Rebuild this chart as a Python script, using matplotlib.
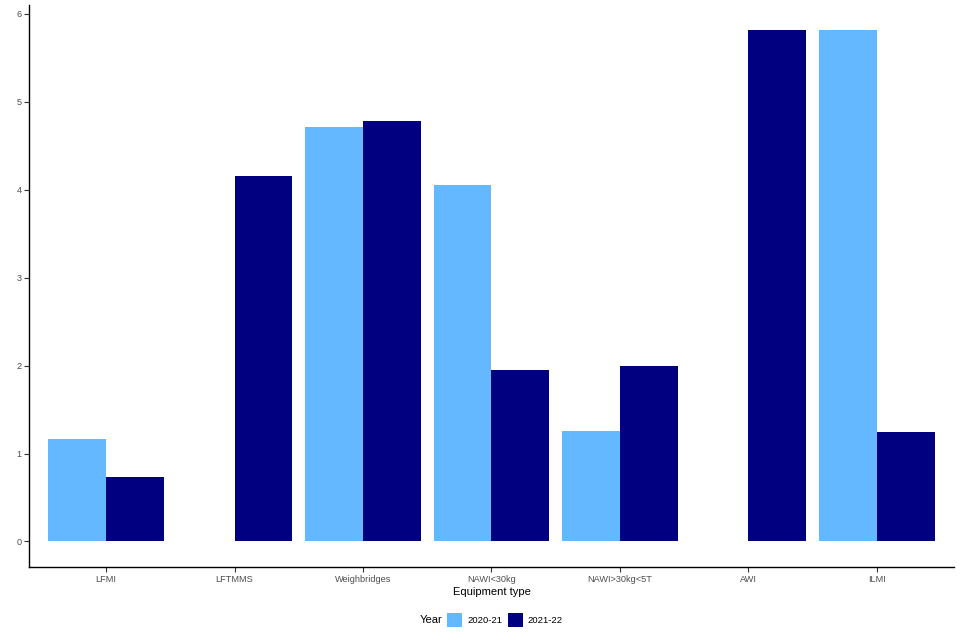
import numpy as np
import matplotlib
matplotlib.use('Agg')
import matplotlib.pyplot as plt
from matplotlib.patches import Patch

plt.rcParams['font.family'] = ['Liberation Sans', 'DejaVu Sans']

categories = ['LFMI', 'LFTMMS', 'Weighbridges', 'NAWI<30kg', 'NAWI>30kg<5T', 'AWI', 'ILMI']
years = ['2020-21', '2021-22']
vals_2020 = [1.17, np.nan, 4.71, 4.05, 1.26, np.nan, 5.81]
vals_2021 = [0.73, 4.16, 4.78, 1.95, 2.00, 5.81, 1.25]
colors = ['#63B8FF', '#000080']

fig = plt.figure(figsize=(9.6, 6.4), dpi=100)
ax = fig.add_axes([0.0302, 0.1141, 0.9635, 0.8781])

x = np.arange(1, len(categories) + 1)
w = 0.45
ax.bar(x - w / 2, vals_2020, width=w, color=colors[0])
ax.bar(x + w / 2, vals_2021, width=w, color=colors[1])

ax.set_xlim(0.4, len(categories) + 0.6)
ax.set_ylim(-0.29, 6.1)
ax.set_xticks(x)
ax.set_xticklabels(categories)
ax.set_yticks(range(0, 7))
ax.tick_params(axis='both', length=3.5, width=0.8, color='#333333',
               labelsize=6.6, labelcolor='#4D4D4D', pad=2)
ax.spines['top'].set_visible(False)
ax.spines['right'].set_visible(False)
for s in ['left', 'bottom']:
    ax.spines[s].set_linewidth(1.0)
    ax.spines[s].set_color('black')
ax.set_xlabel('Equipment type', fontsize=8, labelpad=2.5)

handles = [Patch(facecolor=c, edgecolor='none') for c in colors]
fig.legend(handles, years, loc='center', bbox_to_anchor=(0.526, 0.031), ncol=2,
           frameon=False, fontsize=6.8, handlelength=1.6, handleheight=1.9,
           handletextpad=0.5, columnspacing=0.6)
fig.text(0.449, 0.031, 'Year', fontsize=8, ha='center', va='center')

fig.savefig('out.png', dpi=100)
